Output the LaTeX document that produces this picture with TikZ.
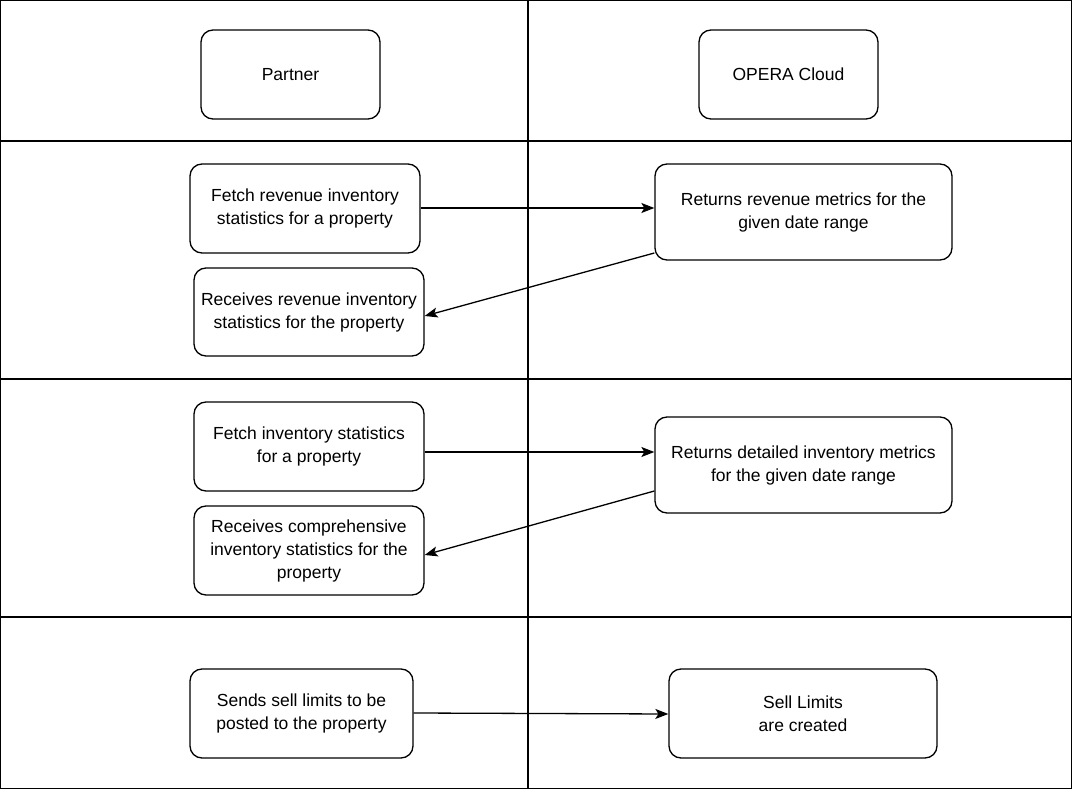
\documentclass[tikz,border=0pt]{standalone}
\usepackage{fontspec}
\setmainfont{Liberation Sans}
\usetikzlibrary{arrows.meta}
\begin{document}
\begin{tikzpicture}[x=1pt,y=-1pt,
  box/.style={draw,line width=1.3pt,rounded corners=12pt,align=center,font=\fontsize{17.5}{23}\selectfont,inner sep=0pt},
  grid/.style={line width=1.2pt},
  conn/.style={line width=1.3pt,-{Stealth[length=13pt,width=10pt,inset=3pt]}}]
\useasboundingbox (0,0) rectangle (1072,789);
\draw[grid] (0.6,0.6) rectangle (1071.4,788.4);
\draw[grid] (528,0) -- (528,789);
\draw[grid] (0,141) -- (1072,141);
\draw[grid] (0,379) -- (1072,379);
\draw[grid] (0,617) -- (1072,617);
\newcommand{\bx}[6]{\node[box,minimum width=#4-#2,minimum height=#5-#3] (#1) at ({(#2+#4)/2},{(#3+#5)/2}) {#6};}
\bx{partner}{201}{30}{380}{119}{Partner}
\bx{opera}{699}{30}{878}{119}{OPERA Cloud}
\bx{fetchrev}{190}{164}{420}{253}{Fetch revenue inventory\\statistics for a property}
\bx{retrev}{655}{164}{952}{260}{Returns revenue metrics for the\\given date range}
\bx{recrev}{194}{268}{424}{356}{Receives revenue inventory\\statistics for the property}
\bx{fetchinv}{194}{402}{424}{491}{Fetch inventory statistics\\for a property}
\bx{retinv}{655}{417}{952}{513}{Returns detailed inventory metrics\\for the given date range}
\bx{recinv}{194}{506}{424}{595}{Receives comprehensive\\inventory statistics for the\\property}
\bx{sends}{190}{669}{413}{758}{Sends sell limits to be\\posted to the property}
\bx{sell}{669}{669}{937}{758}{Sell Limits\\are created}
\draw[conn] (fetchrev.east |- 0,208) -- (retrev.west |- 0,208);
\draw[conn] (retrev.west |- 0,253) -- (recrev.east |- 0,316);
\draw[conn] (fetchinv.east |- 0,452) -- (retinv.west |- 0,452);
\draw[conn] (retinv.west |- 0,491) -- (recinv.east |- 0,555);
\draw[conn] (sends.east |- 0,713) -- (sell.west |- 0,714);
\end{tikzpicture}
\end{document}
